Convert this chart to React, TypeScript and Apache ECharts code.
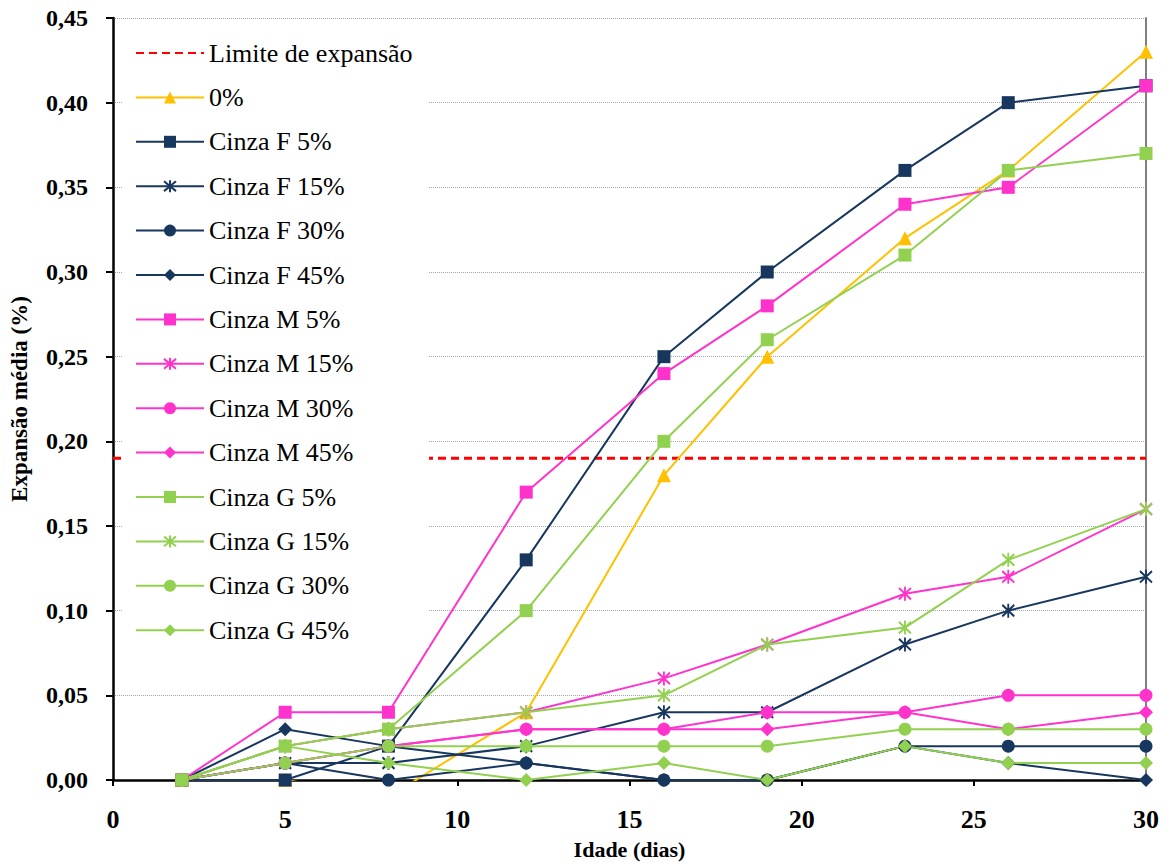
import React, { useEffect, useRef } from "react";
import * as echarts from "echarts";

// ---- data ----
const days = [2, 5, 8, 12, 16, 19, 23, 26, 30];
const limitDays = [0, 30];
const limitValue = 0.19;

const zero = [0, 0, -0.01, 0.04, 0.18, 0.25, 0.32, 0.36, 0.43];
const cinzaF5 = [0, 0, 0.02, 0.13, 0.25, 0.3, 0.36, 0.4, 0.41];
const cinzaF15 = [0, 0.01, 0.01, 0.02, 0.04, 0.04, 0.08, 0.1, 0.12];
const cinzaF30 = [0, 0.01, 0, 0.01, 0, 0, 0.02, 0.02, 0.02];
const cinzaF45 = [0, 0.03, 0.02, 0.01, 0, 0, 0.02, 0.01, 0];
const cinzaM5 = [0, 0.04, 0.04, 0.17, 0.24, 0.28, 0.34, 0.35, 0.41];
const cinzaM15 = [0, 0.02, 0.03, 0.04, 0.06, 0.08, 0.11, 0.12, 0.16];
const cinzaM30 = [0, 0.01, 0.02, 0.03, 0.03, 0.04, 0.04, 0.05, 0.05];
const cinzaM45 = [0, 0.01, 0.02, 0.03, 0.03, 0.03, 0.04, 0.03, 0.04];
const cinzaG5 = [0, 0.02, 0.03, 0.1, 0.2, 0.26, 0.31, 0.36, 0.37];
const cinzaG15 = [0, 0.02, 0.03, 0.04, 0.05, 0.08, 0.09, 0.13, 0.16];
const cinzaG30 = [0, 0.01, 0.02, 0.02, 0.02, 0.02, 0.03, 0.03, 0.03];
const cinzaG45 = [0, 0.02, 0.01, 0, 0.01, 0, 0.02, 0.01, 0.01];

const limitName = "Limite de expansão";
const xTitle = "Idade (dias)";
const yTitle = "Expansão média (%)";

// ---- styles ----
const YELLOW = "#FFC000";
const NAVY = "#17375E";
const PINK = "#FF33CC";
const GREEN = "#92D050";
const RED = "#FF0000";
const FONT = "'Liberation Serif', 'Times New Roman', serif";
const ASTERISK = "path://M0,2L20,20M20,2L0,20M10,0L10,22";

const defs = [
  { name: "0%", data: zero, color: YELLOW, symbol: "triangle", size: 14 },
  { name: "Cinza F 5%", data: cinzaF5, color: NAVY, symbol: "rect", size: 13 },
  { name: "Cinza F 15%", data: cinzaF15, color: NAVY, symbol: ASTERISK, size: 13 },
  { name: "Cinza F 30%", data: cinzaF30, color: NAVY, symbol: "circle", size: 13 },
  { name: "Cinza F 45%", data: cinzaF45, color: NAVY, symbol: "diamond", size: 14 },
  { name: "Cinza M 5%", data: cinzaM5, color: PINK, symbol: "rect", size: 13 },
  { name: "Cinza M 15%", data: cinzaM15, color: PINK, symbol: ASTERISK, size: 13 },
  { name: "Cinza M 30%", data: cinzaM30, color: PINK, symbol: "circle", size: 13 },
  { name: "Cinza M 45%", data: cinzaM45, color: PINK, symbol: "diamond", size: 14 },
  { name: "Cinza G 5%", data: cinzaG5, color: GREEN, symbol: "rect", size: 13 },
  { name: "Cinza G 15%", data: cinzaG15, color: GREEN, symbol: ASTERISK, size: 13 },
  { name: "Cinza G 30%", data: cinzaG30, color: GREEN, symbol: "circle", size: 13 },
  { name: "Cinza G 45%", data: cinzaG45, color: GREEN, symbol: "diamond", size: 14 },
];

export default function App() {
  const ref = useRef<HTMLDivElement>(null);

  useEffect(() => {
    if (!ref.current) return;
    const chart = echarts.init(ref.current, null, { renderer: "svg" });

    const lineSeries = defs.map((d) => {
      const isAst = d.symbol === ASTERISK;
      return {
        name: d.name,
        type: "line",
        data: days.map((x, i) => [x, d.data[i]]),
        symbol: d.symbol,
        symbolSize: isAst ? [12, 14] : d.size,
        showSymbol: true,
        clip: true,
        lineStyle: { color: d.color, width: 2 },
        itemStyle: isAst
          ? { color: d.color, borderColor: d.color, borderWidth: 2 }
          : { color: d.color, borderWidth: 0 },
        emphasis: { disabled: true },
        z: 3,
      };
    });

    const option: any = {
      animation: false,
      backgroundColor: "#ffffff",
      grid: { left: 113, right: 23, top: 18, bottom: 84, containLabel: false },
      legend: {
        orient: "vertical",
        left: 123,
        top: 19,
        padding: [21, 8, 4, 12],
        backgroundColor: "#ffffff",
        itemWidth: 68,
        itemHeight: 15,
        itemGap: 18.4,
        data: [
          { name: limitName, itemStyle: { opacity: 0 } },
          ...defs.map((d) => d.name),
        ],
        textStyle: {
          fontFamily: FONT,
          fontSize: 26,
          color: "#000",
          lineHeight: 26,
          width: 212,
        },
        z: 20,
      },
      xAxis: {
        type: "value",
        min: 0,
        max: 30,
        interval: 5,
        name: xTitle,
        nameLocation: "middle",
        nameGap: 58,
        nameTextStyle: { fontFamily: FONT, fontSize: 22, fontWeight: "bold", color: "#000" },
        axisLine: { show: true, onZero: false, lineStyle: { color: "#000", width: 2.5 } },
        axisTick: { show: true, inside: false, length: 6, lineStyle: { color: "#000", width: 2 } },
        axisLabel: { fontFamily: FONT, fontSize: 26, fontWeight: "bold", color: "#000", margin: 26 },
        splitLine: { show: false },
      },
      yAxis: [
        {
          type: "value",
          min: 0,
          max: 0.45,
          interval: 0.05,
          name: yTitle,
          nameLocation: "middle",
          nameRotate: 90,
          nameGap: 82,
          nameTextStyle: { fontFamily: FONT, fontSize: 23, fontWeight: "bold", color: "#000" },
          axisLine: { show: true, onZero: false, lineStyle: { color: "#000", width: 2.5 } },
          axisTick: { show: true, inside: false, length: 7, lineStyle: { color: "#000", width: 2 } },
          axisLabel: {
            fontFamily: FONT,
            fontSize: 24,
            fontWeight: "bold",
            color: "#000",
            margin: 25,
            formatter: (v: number) => v.toFixed(2).replace(".", ","),
          },
          splitLine: { show: true, lineStyle: { color: "#A6A6A6", width: 1, type: "dotted" } },
        },
        {
          type: "value",
          min: 0,
          max: 0.45,
          interval: 0.05,
          position: "right",
          axisLine: { show: true, onZero: false, lineStyle: { color: "#808080", width: 2 } },
          axisTick: { show: false },
          axisLabel: { show: false },
          splitLine: { show: false },
        },
      ],
      series: [
        {
          name: limitName,
          type: "line",
          data: limitDays.map((x) => [x, limitValue]),
          symbol: "none",
          showSymbol: false,
          clip: false,
          lineStyle: { color: RED, width: 3, type: [8, 5] },
          itemStyle: { color: RED },
          emphasis: { disabled: true },
          z: 1,
        },
        ...lineSeries,
      ],
    };

    chart.setOption(option);
    return () => chart.dispose();
  }, []);

  return (
    <div
      ref={ref}
      style={{ position: "fixed", left: 0, top: 0, width: 1169, height: 865, background: "#fff" }}
    />
  );
}
